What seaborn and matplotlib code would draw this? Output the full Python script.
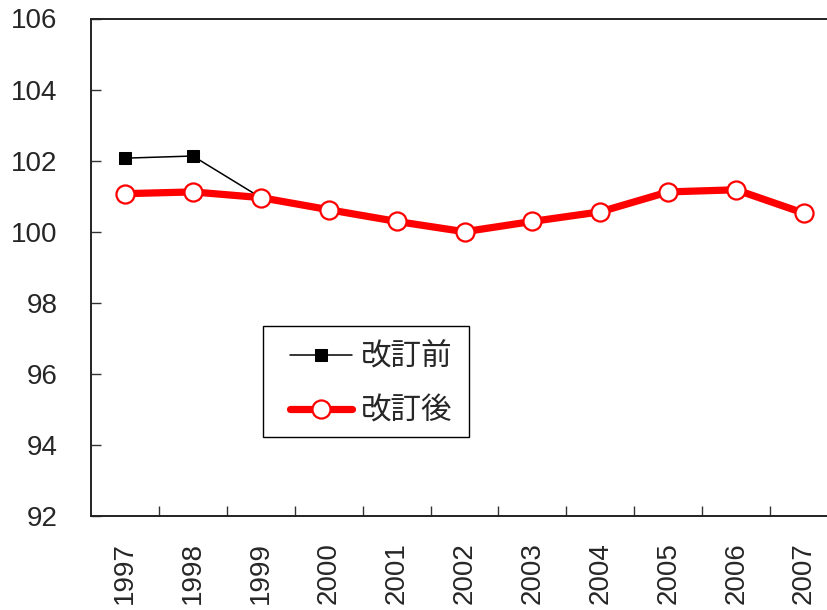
import matplotlib
matplotlib.use("Agg")
import matplotlib.pyplot as plt
import seaborn as sns
import pandas as pd
from matplotlib.patches import Rectangle
from matplotlib.ticker import MultipleLocator, FixedLocator

sns.set_style("white")
plt.rcParams["font.family"] = ["Liberation Sans", "DejaVu Sans"]

# Index series (before / after revision)
years = [1997, 1998, 1999, 2000, 2001, 2002, 2003, 2004, 2005, 2006, 2007]
after_revision = [101.07, 101.12, 100.96, 100.62, 100.29, 100.0, 100.29, 100.56, 101.12, 101.18, 100.52]
before_years = [1997, 1998, 1999]
before_revision = [102.07, 102.13, 100.96]
series_labels = ["改訂前", "改訂後"]

df_after = pd.DataFrame({"year": years, "value": after_revision})
df_before = pd.DataFrame({"year": before_years, "value": before_revision})

fig = plt.figure(figsize=(8.28, 6.10), dpi=100)
ax = fig.add_axes([91 / 828, 94 / 610, 747 / 828, 497.5 / 610])

sns.lineplot(data=df_before, x="year", y="value", ax=ax, color="black",
             linewidth=1.1, marker="s", markersize=8, markerfacecolor="black",
             markeredgecolor="black", label=series_labels[0], zorder=2)
sns.lineplot(data=df_after, x="year", y="value", ax=ax, color="#ff0000",
             linewidth=5.2, marker="o", markersize=13, markerfacecolor="white",
             markeredgecolor="#ff0000", markeredgewidth=1.6,
             label=series_labels[1], zorder=3)

ax.set_xlim(years[0] - 0.5, years[-1] + 0.5)
ax.set_ylim(92, 106)
ax.yaxis.set_major_locator(MultipleLocator(2))
ax.set_xticks(years)
ax.set_xticklabels([str(y) for y in years], rotation=90)
ax.xaxis.set_minor_locator(FixedLocator([y + 0.5 for y in years[:-1]]))

ax.tick_params(axis="x", which="major", length=0, pad=19, labelsize=20)
ax.tick_params(axis="x", which="minor", direction="in", length=7, width=1.0,
               color="#333333", bottom=True)
ax.tick_params(axis="y", direction="in", length=7, width=1.0, pad=24,
               labelsize=20, color="#333333", left=True)
for lbl in ax.get_xticklabels():
    lbl.set_verticalalignment("top")

ax.set_xlabel("")
ax.set_ylabel("")
for side in ["left", "bottom", "top"]:
    ax.spines[side].set_visible(True)
    ax.spines[side].set_color("#222222")
    ax.spines[side].set_linewidth(1.4)
ax.spines["right"].set_visible(False)

# Legend entries without frame, boxed by a plain rectangle
leg = ax.legend(loc="upper left", bbox_to_anchor=(0.2664, 0.350),
                borderaxespad=0, borderpad=0, frameon=False,
                prop={"family": ["Noto Sans CJK JP", "DejaVu Sans"], "size": 22},
                handlelength=2.03, handletextpad=0.3, labelspacing=0.75)
leg.set_zorder(6)
ax.add_patch(Rectangle((0.2303, 0.1588), 0.2758, 0.2231, transform=ax.transAxes,
                       facecolor="white", edgecolor="black", linewidth=1.0,
                       zorder=5))

fig.savefig("out.png", dpi=100)
